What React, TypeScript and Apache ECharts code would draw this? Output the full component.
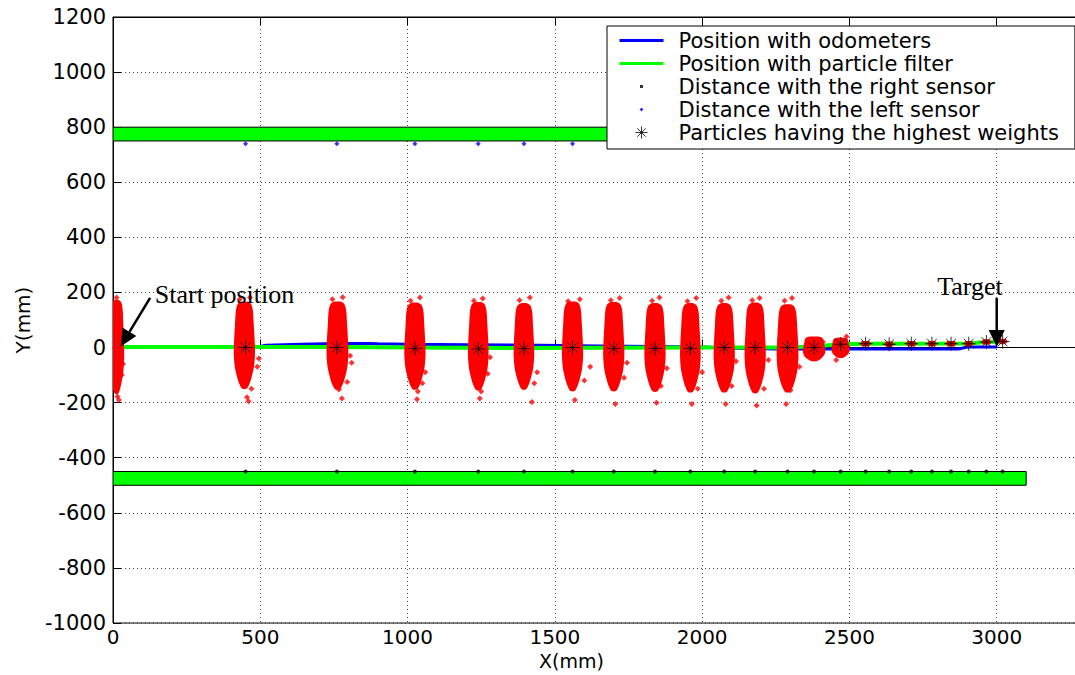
import React, { useEffect, useRef } from "react";
import * as echarts from "echarts";

// ---------- data ----------
const xMin = 0;
const xMax = 3500;
const xStep = 500;
const xLastLabel = 3000;
const yMin = -1000;
const yMax = 1200;
const yStep = 200;
const xTitle = "X(mm)";
const yTitle = "Y(mm)";

// walls: [xStart, xEnd, yLow, yHigh]
const walls = [
  [0, 3100, 750, 800],
  [0, 3100, -500, -450],
];

// odometer trajectory
const odoX = [0, 490, 520, 640, 760, 870, 900, 1000, 1200, 1450, 1650, 1850, 2000, 2100, 2250, 2870, 2900, 3000];
const odoY = [0, 2, 8, 12, 15, 15, 14, 12, 10, 8, 6, 4, 2, -3, -5, -5, 2, 2];

// particle-filter trajectory
const pfX = [0, 450, 760, 1025, 1400, 1700, 2000, 2290, 2380, 2470, 2555, 2905, 2965, 3020];
const pfY = [2, 2, 2, 0, -2, -1, 0, 0, 4, 12, 14, 15, 20, 22];

// particle with the highest weight at each step
const bestX = [450, 760, 1025, 1240, 1395, 1560, 1700, 1840, 1960, 2075, 2180, 2290, 2380, 2470, 2555, 2635, 2710, 2780, 2845, 2905, 2965, 3020];
const bestY = [0, 0, -3, -5, -4, 0, -3, -3, -3, 0, 0, 0, 0, 12, 14, 12, 14, 14, 14, 14, 20, 22];

// right sensor readings
const rightX = [450, 760, 1025, 1240, 1395, 1560, 1700, 1840, 1960, 2075, 2180, 2290, 2380, 2470, 2555, 2635, 2710, 2780, 2845, 2905, 2965, 3020];
const rightY = [-450, -450, -450, -450, -450, -450, -450, -450, -450, -450, -450, -450, -450, -450, -450, -450, -450, -450, -450, -450, -450, -450];

// left sensor readings
const leftX = [450, 760, 1025, 1240, 1395, 1560];
const leftY = [740, 740, 740, 740, 740, 740];

// particle clouds: [xCenter, yTop, yBottom, halfWidthX]
const clouds = [
  [12, 172, -168, 26],
  [446, 166, -150, 36],
  [762, 166, -152, 37],
  [1025, 162, -152, 36],
  [1240, 164, -155, 35],
  [1395, 160, -152, 35],
  [1560, 166, -158, 36],
  [1700, 164, -158, 36],
  [1840, 160, -160, 36],
  [1960, 160, -162, 35],
  [2075, 160, -162, 36],
  [2180, 162, -165, 36],
  [2290, 156, -162, 37],
  [2380, 40, -50, 38],
  [2470, 36, -38, 31],
  [2555, 24, 4, 18],
  [2635, 22, 2, 16],
  [2710, 24, 4, 18],
  [2780, 24, 4, 16],
  [2845, 24, 4, 18],
  [2905, 24, 4, 16],
  [2965, 30, 10, 16],
  [3020, 32, 12, 16],
];

// isolated particles around the clouds
const strayParticles = [
  [12, 182], [25, 120], [34, -60], [30, -100], [20, -190], [15, -178],
  [465, 182], [430, 175], [495, -40], [490, -70], [470, -150], [455, -180], [460, -195],
  [780, 183], [745, 175], [805, -30], [810, -55], [795, -125], [767, -152], [777, -185],
  [1042, 182], [1010, 170], [1060, -90], [1050, -130], [1035, -160], [1032, -188],
  [1255, 178], [1225, 170], [1280, -35], [1272, -95], [1250, -160], [1245, -185],
  [1415, 182], [1380, 172], [1440, -90], [1430, -130], [1422, -198],
  [1585, 175], [1545, 168], [1620, -70], [1600, -120], [1568, -190],
  [1720, 180], [1690, 172], [1745, -55], [1735, -110], [1705, -205],
  [1855, 182], [1830, 170], [1880, -75], [1860, -140], [1845, -200],
  [1980, 180], [1950, 168], [2000, -90], [1985, -150], [1965, -205],
  [2090, 182], [2065, 170], [2115, -50], [2100, -140], [2080, -205],
  [2195, 180], [2170, 172], [2225, -45], [2210, -150], [2185, -210],
  [2305, 180], [2280, 170], [2330, -70], [2300, -155], [2285, -205],
  [2410, 20], [2355, -30], [2490, 40], [2455, -45],
];

// annotations
const arrowFrom = [[126, 180], [3000, 180]];
const arrowTo = [[26, 4], [3000, 2]];
const noteText = ["Start position", "Target"];
const notePos = [[142, 192], [2798, 222]];

const seriesNames = [
  "Position with odometers",
  "Position with particle filter",
  "Distance with the right sensor",
  "Distance with the left sensor",
  "Particles having the highest weights",
];

const zip = (xs: number[], ys: number[]) => xs.map((x, i) => [x, ys[i]]);

const SANS = "DejaVu Sans";
const STAR = "path://M0,-6V6M-6,0H6M-4.2,-4.2L4.2,4.2M-4.2,4.2L4.2,-4.2";

export default function App() {
  const ref = useRef<HTMLDivElement>(null);
  useEffect(() => {
    if (!ref.current) return;
    const chart = echarts.init(ref.current, null, { renderer: "svg" });

    const profile = [
      [0, 0.35], [0.03, 0.65], [0.1, 0.8], [0.25, 0.88], [0.45, 0.97],
      [0.6, 1.0], [0.75, 0.9], [0.88, 0.65], [0.95, 0.45], [1, 0.2],
    ];

    const xLabelFmt = (v: number) => (v > xLastLabel ? "" : String(v));
    const yLabelFmt = (v: number) => String(v);

    const option: any = {
      animation: false,
      backgroundColor: "#fff",
      grid: {
        left: 113,
        top: 17,
        right: -69,
        bottom: 52,
        outerBoundsMode: "none",
        containLabel: false,
        show: true,
        borderColor: "#000",
        borderWidth: 1,
        backgroundColor: "transparent",
      },
      graphic: [
        {
          type: "text",
          left: 539,
          top: 651,
          style: { text: xTitle, fontFamily: SANS, fontSize: 19, fill: "#000" },
        },
      ],
      legend: {
        orient: "vertical",
        left: 607,
        top: 26,
        z: 20,
        padding: [4, 16, 6, 12],
        itemGap: 2,
        itemWidth: 44,
        itemHeight: 14,
        backgroundColor: "#fff",
        borderColor: "#000",
        borderWidth: 1,
        borderRadius: 0,
        selectedMode: false,
        textStyle: { fontFamily: SANS, fontSize: 21, color: "#000", lineHeight: 20, padding: [0, 0, 0, 10] },
        data: [
          {
            name: seriesNames[0],
            icon: "path://M0,0M44,14M0,5.5H44V8.5H0z",
            itemStyle: { color: "#0000ff", borderWidth: 0 },
          },
          {
            name: seriesNames[1],
            icon: "path://M0,0M44,14M0,5.5H44V8.5H0z",
            itemStyle: { color: "#00ff00", borderWidth: 0 },
          },
          {
            name: seriesNames[2],
            icon: "path://M0,0M44,14M20.5,5.5h3v3h-3z",
            itemStyle: { color: "#000", borderWidth: 0 },
          },
          {
            name: seriesNames[3],
            icon: "path://M0,0M44,14M22,5L24,7L22,9L20,7z",
            itemStyle: { color: "#0000ff", borderWidth: 0 },
          },
          {
            name: seriesNames[4],
            icon: "path://M0,0M44,14M22,1V13M16,7H28M17.8,2.8L26.2,11.2M17.8,11.2L26.2,2.8",
            itemStyle: { color: "transparent", borderColor: "#000", borderWidth: 1 },
          },
        ],
      },
      xAxis: [
        {
          type: "value",
          min: xMin,
          max: xMax,
          interval: xStep,
          position: "bottom",
          axisLine: { show: true, lineStyle: { color: "#000", width: 1 } },
          axisTick: { show: true, inside: true, length: 8, lineStyle: { color: "#000" } },
          axisLabel: { fontFamily: SANS, fontSize: 20, color: "#000", margin: 4, formatter: xLabelFmt },
          splitLine: { show: true, lineStyle: { color: "#444", type: [1, 3], width: 1 } },
        },
        {
          type: "value",
          min: xMin,
          max: xMax,
          interval: xStep,
          position: "top",
          axisLine: { show: true, lineStyle: { color: "#000", width: 1 } },
          axisTick: { show: true, inside: true, length: 8, lineStyle: { color: "#000" } },
          axisLabel: { show: false },
          splitLine: { show: false },
        },
      ],
      yAxis: {
        type: "value",
        min: yMin,
        max: yMax,
        interval: yStep,
        name: yTitle,
        nameLocation: "middle",
        nameGap: 80,
        nameTextStyle: { fontFamily: SANS, fontSize: 20, color: "#000" },
        axisLine: { show: true, lineStyle: { color: "#000", width: 1 } },
        axisTick: { show: true, inside: true, length: 8, lineStyle: { color: "#000" } },
        axisLabel: { fontFamily: SANS, fontSize: 21, color: "#000", margin: 7, formatter: yLabelFmt },
        splitLine: { show: true, lineStyle: { color: "#444", type: [1, 3], width: 1 } },
      },
      series: [
        {
          name: "walls",
          type: "custom",
          z: 1,
          clip: true,
          data: walls,
          renderItem: (_p: any, api: any) => {
            const a = api.coord([api.value(0), api.value(3)]);
            const b = api.coord([api.value(1), api.value(2)]);
            return {
              type: "rect",
              shape: { x: a[0], y: a[1], width: b[0] - a[0], height: b[1] - a[1] },
              style: { fill: "#00ff00", stroke: "#000", lineWidth: 1 },
            };
          },
        },
        {
          name: seriesNames[0],
          type: "line",
          z: 2,
          data: zip(odoX, odoY),
          symbol: "none",
          color: "#0000ff",
          lineStyle: { color: "#0000ff", width: 3 },
        },
        {
          name: seriesNames[1],
          type: "line",
          z: 2,
          data: zip(pfX, pfY),
          symbol: "none",
          color: "#00ff00",
          lineStyle: { color: "#00ff00", width: 4 },
        },
        {
          name: "clouds",
          type: "custom",
          z: 3,
          clip: true,
          data: clouds,
          renderItem: (_p: any, api: any) => {
            const x = api.value(0);
            const top = api.coord([x, api.value(1)]);
            const bot = api.coord([x, api.value(2)]);
            const side = api.coord([x + api.value(3), api.value(1)]);
            const w = side[0] - top[0];
            const h = bot[1] - top[1];
            const pts: number[][] = [];
            profile.forEach(([t, f]) => pts.push([top[0] + f * w, top[1] + t * h]));
            profile.slice().reverse().forEach(([t, f]) => pts.push([top[0] - f * w, top[1] + t * h]));
            return {
              type: "polygon",
              shape: { points: pts, smooth: 0.3 },
              style: { fill: "#ff0000" },
            };
          },
        },
        {
          name: "stray",
          type: "scatter",
          z: 3,
          data: strayParticles,
          symbol: "diamond",
          symbolSize: 6,
          itemStyle: { color: "#ff0000" },
        },
        {
          name: seriesNames[2],
          type: "scatter",
          z: 3,
          data: zip(rightX, rightY),
          symbol: "circle",
          symbolSize: 4,
          color: "#000",
          itemStyle: { color: "#000" },
        },
        {
          name: seriesNames[3],
          type: "scatter",
          z: 3,
          data: zip(leftX, leftY),
          symbol: "diamond",
          symbolSize: 5,
          color: "#0000ff",
          itemStyle: { color: "#0000ff" },
        },
        {
          name: seriesNames[4],
          type: "scatter",
          z: 4,
          data: zip(bestX, bestY),
          symbol: STAR,
          symbolSize: 14,
          itemStyle: { color: "transparent", borderColor: "#000", borderWidth: 1 },
        },
        {
          name: "arrows",
          type: "custom",
          z: 5,
          data: arrowFrom.map((f, i) => [f[0], f[1], arrowTo[i][0], arrowTo[i][1]]),
          renderItem: (_p: any, api: any) => {
            const p1 = api.coord([api.value(0), api.value(1)]);
            const p2 = api.coord([api.value(2), api.value(3)]);
            const dx = p2[0] - p1[0];
            const dy = p2[1] - p1[1];
            const len = Math.hypot(dx, dy);
            const ux = dx / len;
            const uy = dy / len;
            const hl = 17;
            const hw = 8;
            const bx = p2[0] - ux * hl;
            const by = p2[1] - uy * hl;
            return {
              type: "group",
              children: [
                {
                  type: "line",
                  shape: { x1: p1[0], y1: p1[1], x2: bx, y2: by },
                  style: { stroke: "#000", lineWidth: 2.5 },
                },
                {
                  type: "polygon",
                  shape: { points: [[p2[0], p2[1]], [bx - uy * hw, by + ux * hw], [bx + uy * hw, by - ux * hw]] },
                  style: { fill: "#000" },
                },
              ],
            };
          },
        },
        {
          name: "notes",
          type: "custom",
          z: 5,
          data: notePos.map((p, i) => [p[0], p[1], i]),
          renderItem: (_p: any, api: any) => {
            const p = api.coord([api.value(0), api.value(1)]);
            return {
              type: "text",
              x: p[0],
              y: p[1],
              style: {
                text: noteText[api.value(2)],
                fontFamily: "Liberation Serif",
                fontSize: 26,
                fill: "#000",
                align: "left",
                verticalAlign: "middle",
              },
            };
          },
        },
      ],
    };

    chart.setOption(option);
    return () => chart.dispose();
  }, []);

  return (
    <div
      ref={ref}
      style={{ position: "fixed", left: 0, top: 0, width: 1075, height: 675, background: "#fff" }}
    />
  );
}
